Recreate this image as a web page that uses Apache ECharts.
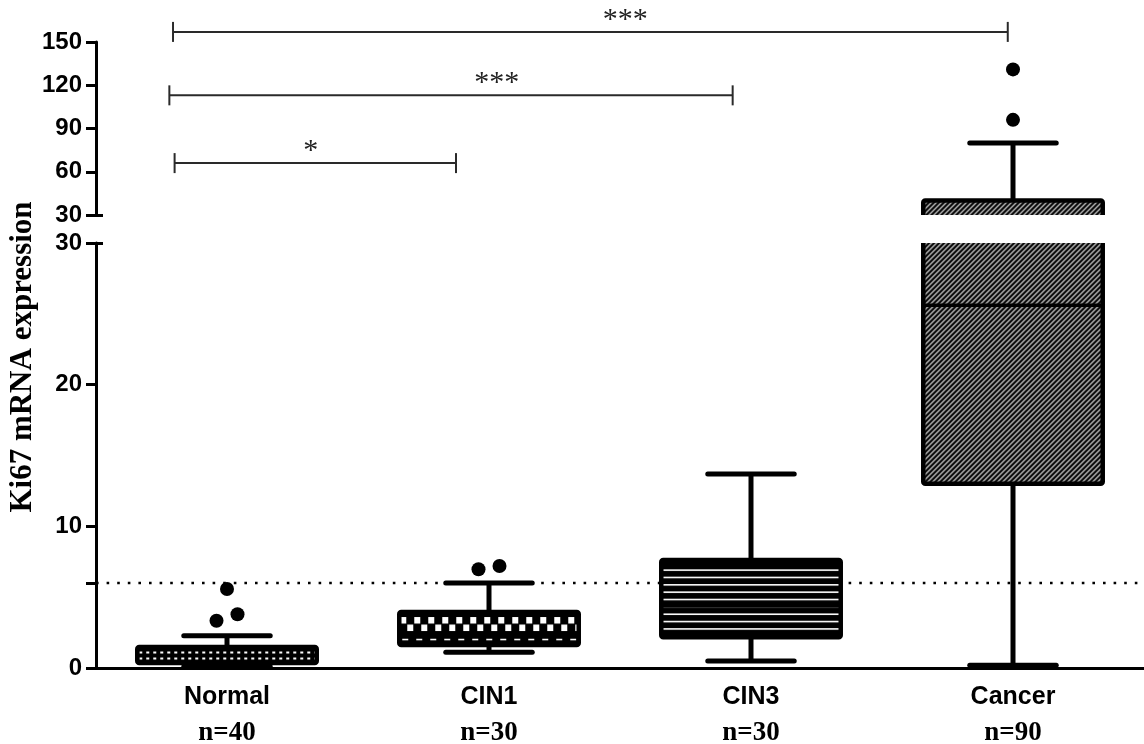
<!DOCTYPE html>
<html>
<head>
<meta charset="utf-8">
<script src="https://cdn.jsdelivr.net/npm/echarts@6/dist/echarts.min.js"></script>
<style>
  html, body { margin: 0; padding: 0; background: #fff; }
  #chart { width: 1144px; height: 744px; }
</style>
</head>
<body>
<div id="chart"></div>
<script>
// ---------- data ----------
const categories = ['Normal', 'CIN1', 'CIN3', 'Cancer'];
const sampleSizes = ['n=40', 'n=30', 'n=30', 'n=90'];
const whiskerLow = [0.1, 1.12, 0.5, 0.2];
const quartile1 = [0.35, 1.62, 2.17, 13.0];
const medians = [0.88, 2.2, 4.4, 25.6];
const quartile3 = [1.48, 3.95, 7.62, 40];
const whiskerHigh = [2.28, 6.0, 13.7, 80];
const outliers = [[3.34, 3.79, 5.58], [6.97, 7.2], [], [96, 131]];
const referenceLevel = 6;
const lowerTicks = [0, 10, 20, 30];
const upperTicks = [30, 60, 90, 120, 150];
const bracketFrom = [-0.2, -0.22, -0.206];
const bracketTo = [0.874, 1.93, 2.98];
const bracketLevel = [66, 113, 157];
const bracketText = ['*', '***', '***'];
const bracketTextAt = [0.32, 1.03, 1.52];
const yTitle = 'Ki67 mRNA expression';

// ---------- fill patterns (style only) ----------
function makeCanvas(w, h, draw) {
  const c = document.createElement('canvas');
  c.width = w; c.height = h;
  const g = c.getContext('2d');
  g.fillStyle = '#000'; g.fillRect(0, 0, w, h);
  g.fillStyle = '#fff'; g.strokeStyle = '#fff';
  draw(g, w, h);
  return c;
}
const patternDots = makeCanvas(7, 40, g => {
  g.fillRect(2, 4.5, 3, 2);
  g.fillRect(2, 10.5, 3, 2);
});
const patternChecker = makeCanvas(14, 200, g => {
  g.fillRect(1, 5, 6, 6.5);
  g.fillRect(8, 12.5, 6, 6.5);
  g.fillRect(3, 26.5, 6, 1.8);
});
const patternStripes = makeCanvas(4, 200, g => {
  for (let y = 9.3; y < 200; y += 7.35) g.fillRect(0, y, 4, 1.6);
});
const patternHatch = makeCanvas(5, 5, g => {
  g.lineWidth = 1.1;
  g.beginPath();
  g.moveTo(-1, 6); g.lineTo(6, -1);
  g.moveTo(-1, 1); g.lineTo(1, -1);
  g.moveTo(4, 6); g.lineTo(6, 4);
  g.stroke();
});
const boxPatterns = [
  { image: patternDots, repeat: 'repeat-x' },
  { image: patternChecker, repeat: 'repeat-x' },
  { image: patternStripes, repeat: 'repeat-x' },
  { image: patternHatch, repeat: 'repeat' }
];
const medianWidths = [2.5, 3.5, 4, 3.5];

const boxData = categories.map((c, i) =>
  [i, whiskerLow[i], quartile1[i], medians[i], quartile3[i], whiskerHigh[i]]);

function renderBox(params, api) {
  const i = params.dataIndex;
  const band = api.size([1, 0])[0];
  const cx = api.coord([i, 0])[0];
  const yOf = v => api.coord([i, v])[1];
  const boxW = band * 0.685;
  const capHalf = band * 0.165;
  const yLo = yOf(api.value(1)), yBot = yOf(api.value(2)), yMed = yOf(api.value(3));
  const yTop = yOf(api.value(4)), yHi = yOf(api.value(5));
  const x0 = cx - boxW / 2;
  const stem = { stroke: '#000', lineWidth: 5 };
  const cap = { stroke: '#000', lineWidth: 5, lineCap: 'round' };
  const p = boxPatterns[i];
  const children = [
    { type: 'line', shape: { x1: cx, y1: yTop, x2: cx, y2: yHi }, style: stem },
    { type: 'line', shape: { x1: cx - capHalf, y1: yHi, x2: cx + capHalf, y2: yHi }, style: cap },
    { type: 'line', shape: { x1: cx, y1: yBot, x2: cx, y2: yLo }, style: stem },
    { type: 'line', shape: { x1: cx - capHalf, y1: yLo, x2: cx + capHalf, y2: yLo }, style: cap },
    { type: 'rect', shape: { x: x0, y: yTop, width: boxW, height: yBot - yTop, r: 2 },
      style: { fill: { image: p.image, repeat: p.repeat, x: x0, y: yTop }, stroke: '#000', lineWidth: 4.5 } },
    { type: 'line', shape: { x1: x0, y1: yMed, x2: x0 + boxW, y2: yMed }, style: { stroke: '#000', lineWidth: medianWidths[i] } }
  ];
  // outliers, spread sideways when they would overlap (beeswarm-like)
  const r = 7;
  const pts = outliers[i].slice().sort((a, b) => a - b).map(v => ({ v, y: yOf(v) }));
  const clusters = [];
  pts.forEach((pt, k) => {
    if (k > 0 && Math.abs(pt.y - pts[k - 1].y) < 2 * r) clusters[clusters.length - 1].push(pt);
    else clusters.push([pt]);
  });
  clusters.forEach(cl => {
    cl.forEach((pt, k) => {
      const dx = (k - (cl.length - 1) / 2) * 21;
      children.push({ type: 'circle', shape: { cx: cx + dx, cy: pt.y, r }, style: { fill: '#000' } });
    });
  });
  return { type: 'group', children };
}

function renderReference(params, api) {
  const y = api.coord([0, api.value(1)])[1];
  const cs = params.coordSys;
  return {
    type: 'line',
    shape: { x1: cs.x, y1: y, x2: cs.x + cs.width, y2: y },
    style: { stroke: '#000', lineWidth: 2.6, lineDash: [2.6, 8], lineCap: 'butt' }
  };
}

const bracketData = bracketFrom.map((f, i) => [f, bracketTo[i], bracketLevel[i], bracketTextAt[i]]);
function renderBracket(params, api) {
  const i = params.dataIndex;
  const a = api.coord([api.value(0), api.value(2)]);
  const b = api.coord([api.value(1), api.value(2)]);
  const t = api.coord([api.value(3), api.value(2)]);
  const st = { stroke: '#2a2a2a', lineWidth: 2 };
  return {
    type: 'group',
    children: [
      { type: 'line', shape: { x1: a[0], y1: a[1], x2: b[0], y2: b[1] }, style: st },
      { type: 'line', shape: { x1: a[0], y1: a[1] - 10, x2: a[0], y2: a[1] + 10 }, style: st },
      { type: 'line', shape: { x1: b[0], y1: b[1] - 10, x2: b[0], y2: b[1] + 10 }, style: st },
      { type: 'text', x: t[0], y: t[1] - 12,
        style: { text: bracketText[i], font: '30px "Liberation Serif", "Times New Roman", serif',
                 fill: '#222', align: 'center', verticalAlign: 'middle',
                 textAlign: 'center', textVerticalAlign: 'middle' } }
    ]
  };
}

const tickFont = { fontFamily: '"Liberation Sans", Arial, sans-serif', fontWeight: 'bold', fontSize: 24, color: '#000' };
const axisLineStyle = { color: '#000', width: 3 };

const chart = echarts.init(document.getElementById('chart'), null, { renderer: 'canvas' });
chart.setOption({
  animation: false,
  backgroundColor: '#fff',
  grid: [
    { left: 96, right: 0, top: 243, bottom: 76, containLabel: false, outerBoundsMode: 'none' },
    { left: 96, right: 0, top: 42, bottom: 529, containLabel: false, outerBoundsMode: 'none' }
  ],
  xAxis: [
    {
      type: 'category', gridIndex: 0, data: categories, boundaryGap: true,
      axisLine: { onZero: false, lineStyle: axisLineStyle },
      axisTick: { alignWithLabel: true, length: 10, lineStyle: axisLineStyle },
      splitLine: { show: false },
      axisLabel: {
        margin: 12, interval: 0,
        formatter: (v, idx) => '{a|' + v + '}\n{b|' + sampleSizes[idx] + '}',
        rich: {
          a: { fontFamily: '"Liberation Sans", Arial, sans-serif', fontWeight: 'bold', fontSize: 25, lineHeight: 34, color: '#000' },
          b: { fontFamily: '"Liberation Serif", "Times New Roman", serif', fontWeight: 'bold', fontSize: 27, lineHeight: 38, color: '#000' }
        }
      }
    },
    { type: 'value', gridIndex: 1, min: -0.5, max: 3.5, show: false }
  ],
  yAxis: [
    {
      type: 'value', gridIndex: 0, min: 0, max: 30, interval: 10, position: 'left',
      axisLine: { show: true, onZero: false, lineStyle: axisLineStyle },
      axisTick: { show: true, length: 10, lineStyle: axisLineStyle, customValues: lowerTicks.concat([referenceLevel]) },
      axisLabel: Object.assign({ margin: 14, customValues: lowerTicks }, tickFont),
      splitLine: { show: false }
    },
    {
      type: 'value', gridIndex: 1, min: 30, max: 150, interval: 30, position: 'left',
      axisLine: { show: true, onZero: false, lineStyle: axisLineStyle },
      axisTick: { show: true, length: 10, lineStyle: axisLineStyle, customValues: upperTicks },
      axisLabel: Object.assign({ margin: 14, customValues: upperTicks }, tickFont),
      splitLine: { show: false }
    },
    {
      type: 'value', gridIndex: 0, min: 0, max: 30, position: 'left', offset: 0,
      axisLine: { show: false, onZero: false },
      axisTick: { show: true, inside: true, length: 7, lineStyle: axisLineStyle, customValues: [30] },
      axisLabel: { show: false }, splitLine: { show: false }
    },
    {
      type: 'value', gridIndex: 1, min: 30, max: 150, position: 'left', offset: 0,
      axisLine: { show: false, onZero: false },
      axisTick: { show: true, inside: true, length: 7, lineStyle: axisLineStyle, customValues: [30] },
      axisLabel: { show: false }, splitLine: { show: false }
    }
  ],
  graphic: [
    {
      type: 'text', x: 23, y: 357, rotation: Math.PI / 2,
      style: { text: yTitle, font: 'bold 31px "Liberation Serif", "Times New Roman", serif', fill: '#000',
               textAlign: 'center', textVerticalAlign: 'middle', align: 'center', verticalAlign: 'middle' }
    }
  ],
  series: [
    {
      type: 'custom', name: 'reference', xAxisIndex: 0, yAxisIndex: 0, silent: true, z: 1,
      data: [[0, referenceLevel]], encode: { x: 0, y: 1 }, renderItem: renderReference
    },
    {
      type: 'custom', name: 'lower', xAxisIndex: 0, yAxisIndex: 0, clip: true, silent: true, z: 2,
      data: boxData, encode: { x: 0, y: [1, 2, 3, 4, 5] }, renderItem: renderBox
    },
    {
      type: 'custom', name: 'upper', xAxisIndex: 1, yAxisIndex: 1, clip: true, silent: true, z: 2,
      data: boxData, encode: { x: 0, y: [1, 2, 3, 4, 5] }, renderItem: renderBox
    },
    {
      type: 'custom', name: 'brackets', xAxisIndex: 1, yAxisIndex: 1, clip: false, silent: true, z: 3,
      data: bracketData, encode: { x: [0, 1], y: 2 }, renderItem: renderBracket
    }
  ]
});
</script>
</body>
</html>
